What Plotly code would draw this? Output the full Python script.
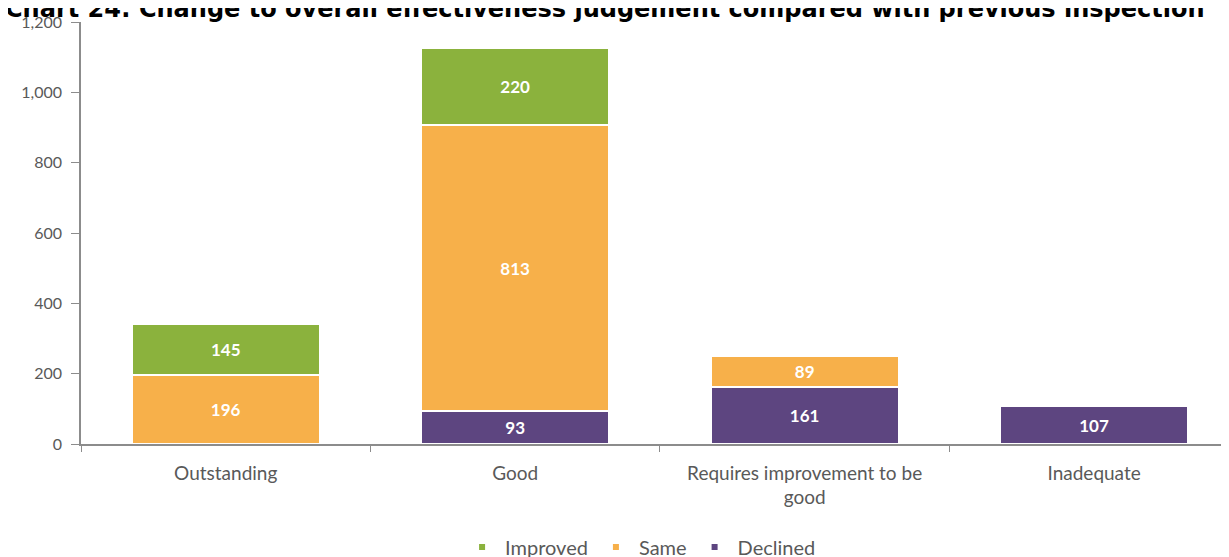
import plotly.graph_objects as go

categories = ["Outstanding", "Good", "Requires improvement to be<br>good", "Inadequate"]
improved = [145, 220, None, None]
same = [196, 813, 89, None]
declined = [None, 93, 161, 107]

title_text = "Chart 24: Change to overall effectiveness judgement compared with previous inspection"

C_IMP = "#8bb23d"
C_SAME = "#f7b04a"
C_DEC = "#5d4580"
FONT = "Lato"
GREY = "#595959"

fig = go.Figure()
for name, vals, col in [("Declined", declined, C_DEC), ("Same", same, C_SAME), ("Improved", improved, C_IMP)]:
    fig.add_trace(go.Bar(
        x=categories, y=vals, name=name, marker=dict(color=col, line=dict(color="white", width=2)),
        text=[str(v) if v is not None else "" for v in vals], textposition="inside",
        insidetextanchor="middle", textangle=0,
        textfont=dict(color="white", size=17, family=FONT, weight="bold"),
        width=0.65, showlegend=False, hoverinfo="skip"))
for name, col in [("Improved", C_IMP), ("Same", C_SAME), ("Declined", C_DEC)]:
    fig.add_trace(go.Scatter(x=[None], y=[None], mode="markers", name=name,
                             marker=dict(symbol="square", size=6, color=col)))

fig.update_layout(
    width=1221, height=549, barmode="stack", bargap=0.35,
    margin=dict(l=73, r=0, t=14, b=113, autoexpand=False),
    plot_bgcolor="white", paper_bgcolor="white",
    font=dict(family=FONT, size=15, color=GREY),
    xaxis=dict(range=[-0.5, 3.466], showline=True, linecolor="#8c8c8c", linewidth=1.5,
               ticks="outside", tickson="boundaries", ticklen=6, tickcolor="#8c8c8c",
               ticklabelstandoff=11,
               tickfont=dict(size=19, color=GREY, family=FONT), fixedrange=True),
    yaxis=dict(range=[0, 1200], dtick=200, tickformat=",", showline=True, linecolor="#8c8c8c",
               linewidth=1.5, ticks="outside", ticklen=8, tickcolor="#8c8c8c", showgrid=False,
               ticklabelstandoff=6,
               zeroline=False, tickfont=dict(size=16, color=GREY, family=FONT)),
    legend=dict(orientation="h", x=0.487, xanchor="center", y=-0.244, yanchor="middle",
                traceorder="normal", itemwidth=36,
                font=dict(size=20, color=GREY, family=FONT), itemsizing="trace"),
    annotations=[dict(text="<b>" + title_text + "</b>", xref="paper", yref="paper",
                      x=-78/1148, xanchor="left", y=1 - 3/422, yanchor="bottom",
                      showarrow=False, font=dict(family="DejaVu Sans", size=24, color="black"))],
)
fig.write_html("out.html")
